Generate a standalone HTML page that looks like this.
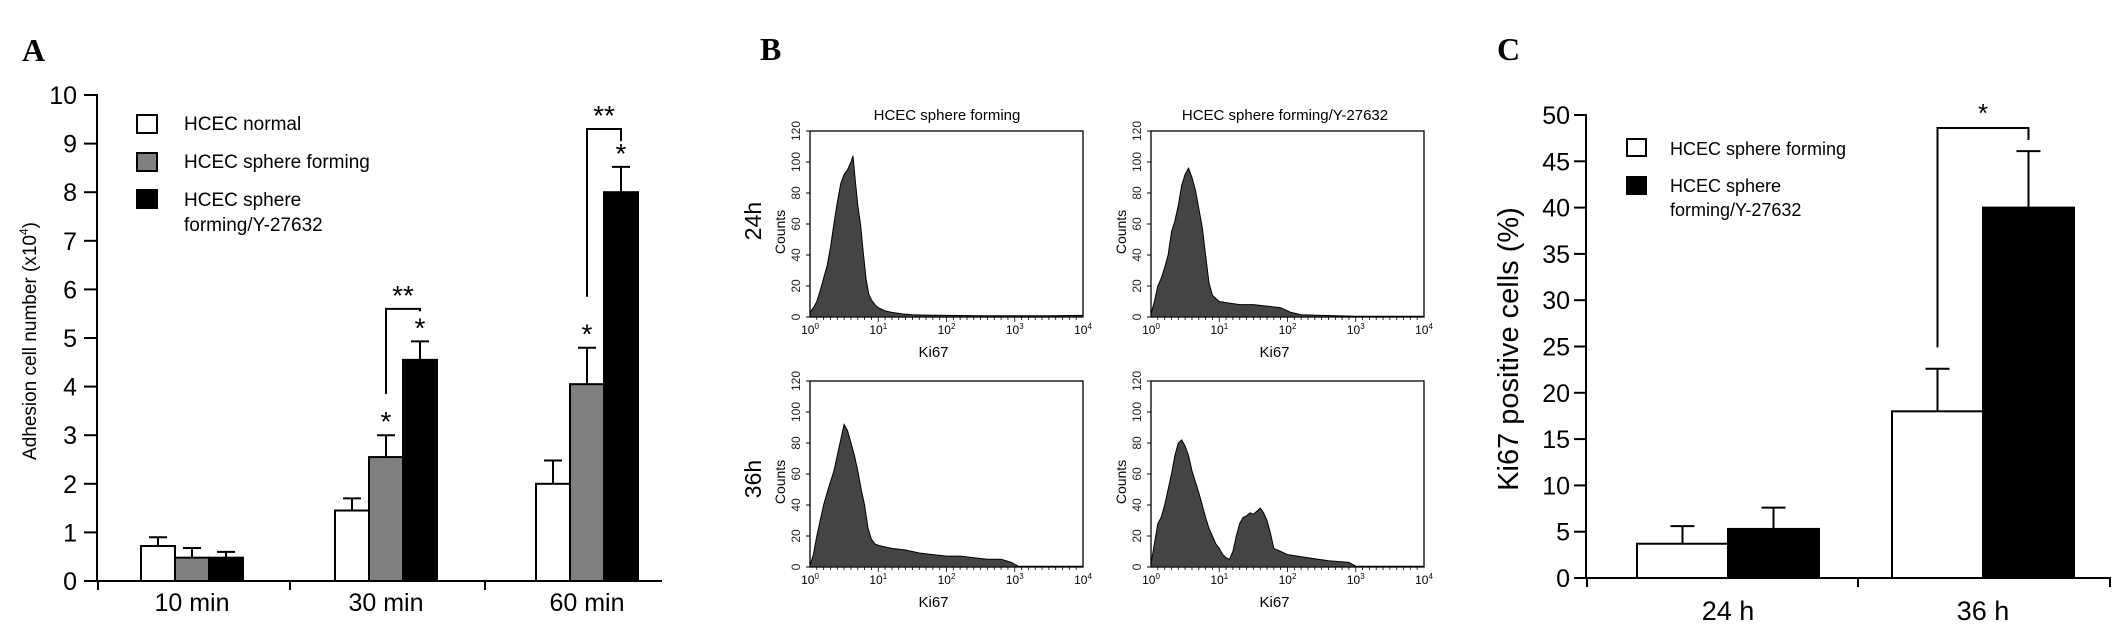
<!DOCTYPE html>
<html><head><meta charset="utf-8"><style>
html,body{margin:0;padding:0;background:#fff;}
svg{display:block;font-family:"Liberation Sans","DejaVu Sans",sans-serif;}
</style></head><body>
<svg id="fig" width="2126" height="633" viewBox="0 0 2126 633" xmlns="http://www.w3.org/2000/svg">
<text x="22" y="61" font-family="Liberation Serif,serif" font-weight="bold" font-size="32">A</text>
<text x="760" y="60" font-family="Liberation Serif,serif" font-weight="bold" font-size="32">B</text>
<text x="1497" y="60" font-family="Liberation Serif,serif" font-weight="bold" font-size="32">C</text>
<g id="pa"></g>
<g id="pb"></g>
<g id="pc"></g>
</svg>
<script>
// ---- Panel A data ----
const aCategories = ["10 min", "30 min", "60 min"];
const aSeries = ["HCEC normal", "HCEC sphere forming", "HCEC sphere forming/Y-27632"];
const aNormal = [0.72, 1.45, 2.0];
const aNormalErr = [0.18, 0.25, 0.48];
const aSphere = [0.48, 2.55, 4.05];
const aSphereErr = [0.2, 0.45, 0.75];
const aY27632 = [0.48, 4.55, 8.0];
const aY27632Err = [0.12, 0.38, 0.52];
const aYTicks = [0,1,2,3,4,5,6,7,8,9,10];
// ---- Panel B data (x in log10 decades, counts) ----
const bTLx = [0,0.05,0.1,0.15,0.2,0.25,0.3,0.35,0.4,0.45,0.5,0.55,0.6,0.63,0.66,0.7,0.74,0.78,0.82,0.86,0.9,0.95,1.0,1.1,1.2,1.35,1.5,1.7,2,2.5,3,3.5,4];
const bTLy = [3,6,10,17,25,33,45,60,74,86,92,95,100,104,90,72,60,42,25,15,11,8,6,4,3,2,1.5,1.2,1,0.8,0.8,0.8,1];
const bTRx = [0,0.05,0.1,0.15,0.2,0.25,0.3,0.35,0.4,0.45,0.5,0.55,0.6,0.65,0.7,0.75,0.8,0.85,0.9,0.95,1.0,1.15,1.3,1.5,1.7,1.9,2.05,2.2,2.5,3,3.5,4];
const bTRy = [2,10,20,25,32,40,55,62,72,85,92,96,90,82,70,58,40,22,14,12,10,9,8,8,7,6,3,1.5,1,0.5,0.5,0.5];
const bBLx = [0,0.05,0.1,0.15,0.2,0.25,0.3,0.35,0.4,0.45,0.5,0.55,0.6,0.65,0.7,0.75,0.8,0.85,0.9,0.95,1.0,1.2,1.4,1.6,1.8,2.0,2.2,2.4,2.6,2.8,2.95,3.05,3.5,4];
const bBLy = [1,8,20,30,40,48,55,62,72,82,92,88,80,72,62,50,40,25,18,15,14,12,11,9,8,7,7,6,5,5,3,0.5,0.5,0.5];
const bBRx = [0,0.05,0.1,0.15,0.2,0.25,0.3,0.35,0.4,0.45,0.5,0.55,0.6,0.65,0.7,0.75,0.8,0.85,0.9,0.95,1.0,1.05,1.1,1.15,1.2,1.25,1.3,1.35,1.4,1.45,1.5,1.55,1.6,1.65,1.7,1.75,1.8,1.9,2.0,2.3,2.6,2.9,3.0,3.5,4];
const bBRy = [2,15,28,32,40,50,60,72,80,82,78,72,62,55,48,40,32,25,20,15,12,8,6,5,10,20,28,32,33,35,34,36,38,35,30,22,12,10,8,6,4,3,0.5,0.5,0.5];
const bXTicks = ["10","10","10","10","10"];
const bXTickExp = ["0","1","2","3","4"];
const bYTicks = [0,20,40,60,80,100,120];
// ---- Panel C data ----
const cCategories = ["24 h", "36 h"];
const cSeries = ["HCEC sphere forming", "HCEC sphere forming/Y-27632"];
const cSphere = [3.7, 18];
const cSphereErr = [1.9, 4.6];
const cY27632 = [5.3, 40];
const cY27632Err = [2.3, 6.1];
const cYTicks = [0,5,10,15,20,25,30,35,40,45,50];

const NS = "http://www.w3.org/2000/svg";
function mk(parent, tag, attrs, text){
  const e = document.createElementNS(NS, tag);
  for (const k in attrs) e.setAttribute(k, attrs[k]);
  if (text !== undefined) e.textContent = text;
  parent.appendChild(e); return e;
}

// ================= Panel A =================
(function(){
  const g = document.getElementById('pa');
  const x0 = 97, y0 = 581, yTop = 95, ymax = 10;
  const ya = v => y0 - (v / ymax) * (y0 - yTop);
  const groupStart = [141, 335, 536];
  const bw = 34;
  const xa = (ci, si) => groupStart[ci] + si * bw;
  let e = mk(g,'line',{x1:x0,y1:yTop-1,x2:x0,y2:y0+1,stroke:'#000','stroke-width':2});
   
  e = mk(g,'line',{x1:85,y1:y0,x2:662,y2:y0,stroke:'#000','stroke-width':2});
   
  [98,290,485].forEach(tx=>{ mk(g,'line',{x1:tx,y1:y0,x2:tx,y2:y0+9,stroke:'#000','stroke-width':2}); });
  aYTicks.forEach(t=>{
    mk(g,'line',{x1:x0-13,y1:ya(t),x2:x0,y2:ya(t),stroke:'#000','stroke-width':2});
    const l = mk(g,'text',{x:x0-20,y:ya(t)+9,'text-anchor':'end','font-size':25},String(t));
     
  });
  const yt = mk(g,'text',{x:0,y:0,transform:'translate(36,341) rotate(-90)','text-anchor':'middle','font-size':19});
   
  yt.innerHTML = 'Adhesion cell number (x10<tspan dy="-8" font-size="12">4</tspan><tspan dy="8">)</tspan>';
  aCategories.forEach((c,i)=>{
    const l = mk(g,'text',{x:groupStart[i]+51,y:611,'text-anchor':'middle','font-size':25},c);
     
  });
  const fills = ['#fff','#808080','#000'];
  const vals = [aNormal, aSphere, aY27632];
  const errs = [aNormalErr, aSphereErr, aY27632Err];
  vals.forEach((arr,si)=>{
    arr.forEach((v,ci)=>{
      const x = xa(ci,si), cx = x + bw/2;
      const top = v + errs[si][ci];
      const el = mk(g,'line',{x1:cx,y1:ya(v),x2:cx,y2:ya(top),stroke:'#000','stroke-width':2});
       
      mk(g,'line',{x1:cx-9,y1:ya(top),x2:cx+9,y2:ya(top),stroke:'#000','stroke-width':2});
      const b = mk(g,'rect',{x:x,y:ya(v),width:bw,height:y0-ya(v),fill:fills[si],stroke:'#000','stroke-width':2});
      
      
    });
  });
  function star(x,y,txt){ const s = mk(g,'text',{x:x,y:y,'text-anchor':'middle','font-size':28},txt);
      }
  [[1,1],[1,2],[2,1],[2,2]].forEach(p=>{
    const ci=p[0], si=p[1]; const v = vals[si][ci]+errs[si][ci];
    star(xa(ci,si)+bw/2, ya(v)-4, '*');
  });
  function bracket(ci, yBr, yL, yR, txt){
    const xl = xa(ci,1)+bw/2, xr = xa(ci,2)+bw/2;
    const p = mk(g,'polyline',{points:`${xl},${ya(yL)} ${xl},${ya(yBr)} ${xr},${ya(yBr)} ${xr},${ya(yR)}`,fill:'none',stroke:'#000','stroke-width':2});
     
    star((xl+xr)/2, ya(yBr)-4, txt);
  }
  bracket(1, 5.6, 3.85, 5.55, '**');
  bracket(2, 9.3, 5.85, 9.05, '**');
  aSeries.forEach((s,i)=>{
    const r = mk(g,'rect',{x:137,y:[115,153,190][i],width:20,height:18,fill:fills[i],stroke:'#000','stroke-width':2});
     
  });
  let t = mk(g,'text',{x:184,y:130,'font-size':19},'HCEC normal');  
  t = mk(g,'text',{x:184,y:168,'font-size':19},'HCEC sphere forming');  
  t = mk(g,'text',{x:184,y:206,'font-size':19},'HCEC sphere');  
  mk(g,'text',{x:184,y:231,'font-size':19},'forming/Y-27632');
})();

// ================= Panel B =================
(function(){
  const g = document.getElementById('pb');
  const panels = [
    {x:810,y:131,xs:bTLx,ys:bTLy,name:'histogram-24h-sphere'},
    {x:1151,y:131,xs:bTRx,ys:bTRy,name:'histogram-24h-y27632'},
    {x:810,y:381,xs:bBLx,ys:bBLy,name:'histogram-36h-sphere'},
    {x:1151,y:381,xs:bBRx,ys:bBRy,name:'histogram-36h-y27632'}
  ];
  const W = 273, H = 186;
  panels.forEach(p=>{
    const xs = d => p.x + d/4*W;
    const ys = c => p.y + H - c/120*H;
    const fr = mk(g,'rect',{x:p.x,y:p.y,width:W,height:H,fill:'#fff',stroke:'#000','stroke-width':1.3});
     
    let pts = `${xs(0)},${ys(0)} `;
    p.xs.forEach((d,i)=>{ pts += `${xs(d).toFixed(1)},${ys(p.ys[i]).toFixed(1)} `; });
    pts += `${xs(4)},${ys(0)}`;
    const h = mk(g,'polygon',{points:pts,fill:'#444',stroke:'#000','stroke-width':1});
     
    bYTicks.forEach(t=>{
      mk(g,'line',{x1:p.x-4,y1:ys(t),x2:p.x,y2:ys(t),stroke:'#000','stroke-width':1});
      const l = mk(g,'text',{x:0,y:0,transform:`translate(${p.x-10},${ys(t)}) rotate(-90)`,'text-anchor':'middle','font-size':12,fill:'#222'},String(t));
       
    });
    for(let k=1;k<40;k++){ const tx=p.x+k*W/40; mk(g,'line',{x1:tx,y1:p.y+H,x2:tx,y2:p.y+H+(k%10==0?5:3),stroke:'#000','stroke-width':0.8}); }
    bXTicks.forEach((b,i)=>{
      const l = mk(g,'text',{x:p.x+i*W/4,y:p.y+H+17,'text-anchor':'middle','font-size':12});
       
      l.innerHTML = b+'<tspan dy="-5" font-size="8">'+bXTickExp[i]+'</tspan>';
    });
    const xl = mk(g,'text',{x:p.x+W/2-13,y:p.y+H+40,'text-anchor':'middle','font-size':15},'Ki67');
     
    const yl = mk(g,'text',{x:0,y:0,transform:`translate(${p.x-25},${p.y+H/2+8}) rotate(-90)`,'text-anchor':'middle','font-size':14},'Counts');
     
  });
  let t = mk(g,'text',{x:947,y:120,'text-anchor':'middle','font-size':15},'HCEC sphere forming');
   
  t = mk(g,'text',{x:1285,y:120,'text-anchor':'middle','font-size':15},'HCEC sphere forming/Y-27632');
   
  t = mk(g,'text',{x:0,y:0,transform:'translate(761,221) rotate(-90)','text-anchor':'middle','font-size':23},'24h');
   
  t = mk(g,'text',{x:0,y:0,transform:'translate(761,479) rotate(-90)','text-anchor':'middle','font-size':23},'36h');
   
})();

// ================= Panel C =================
(function(){
  const g = document.getElementById('pc');
  const x0 = 1586, y0 = 578, yTop = 115, ymax = 50;
  const ya = v => y0 - v/ymax*(y0-yTop);
  const groupStart = [1637, 1892];
  const bw = 91;
  const xa = (ci,si) => groupStart[ci] + si*bw;
  let e = mk(g,'line',{x1:x0,y1:yTop-1,x2:x0,y2:y0+1,stroke:'#000','stroke-width':2});
   
  e = mk(g,'line',{x1:x0,y1:y0,x2:2111,y2:y0,stroke:'#000','stroke-width':2});
   
  [1587,1858,2110].forEach(tx=>mk(g,'line',{x1:tx,y1:y0,x2:tx,y2:y0+9,stroke:'#000','stroke-width':2}));
  cYTicks.forEach(t=>{
    mk(g,'line',{x1:x0-12,y1:ya(t),x2:x0,y2:ya(t),stroke:'#000','stroke-width':2});
    const l = mk(g,'text',{x:1570,y:ya(t)+9,'text-anchor':'end','font-size':25},String(t));
     
  });
  const yt = mk(g,'text',{x:0,y:0,transform:'translate(1518,349) rotate(-90)','text-anchor':'middle','font-size':29},'Ki67 positive cells (%)');
   
  cCategories.forEach((c,i)=>{
    const l = mk(g,'text',{x:groupStart[i]+bw,y:620,'text-anchor':'middle','font-size':27},c);
     
  });
  const fills = ['#fff','#000'];
  const vals = [cSphere, cY27632], errs = [cSphereErr, cY27632Err];
  vals.forEach((arr,si)=>arr.forEach((v,ci)=>{
    const x = xa(ci,si), cx = x+bw/2, top = v+errs[si][ci];
    const el = mk(g,'line',{x1:cx,y1:ya(v),x2:cx,y2:ya(top),stroke:'#000','stroke-width':2});
     
    mk(g,'line',{x1:cx-12,y1:ya(top),x2:cx+12,y2:ya(top),stroke:'#000','stroke-width':2});
    const b = mk(g,'rect',{x:x,y:ya(v),width:bw,height:y0-ya(v),fill:fills[si],stroke:'#000','stroke-width':2});
    
    
  }));
  const xl = xa(1,0)+bw/2, xr = xa(1,1)+bw/2;
  const br = mk(g,'polyline',{points:`${xl},${ya(24.9)} ${xl},${ya(48.6)} ${xr},${ya(48.6)} ${xr},${ya(47.3)}`,fill:'none',stroke:'#000','stroke-width':2});
   
  const s = mk(g,'text',{x:(xl+xr)/2,y:ya(48.6)-6,'text-anchor':'middle','font-size':26},'*');
   
  cSeries.forEach((n,i)=>{
    const r = mk(g,'rect',{x:1627,y:[139,177][i],width:19,height:17,fill:fills[i],stroke:'#000','stroke-width':2});
     
  });
  let t = mk(g,'text',{x:1670,y:155,'font-size':18},'HCEC sphere forming');  
  t = mk(g,'text',{x:1670,y:192,'font-size':18},'HCEC sphere');  
  mk(g,'text',{x:1670,y:216,'font-size':18},'forming/Y-27632');
})();
</script>
</body></html>
